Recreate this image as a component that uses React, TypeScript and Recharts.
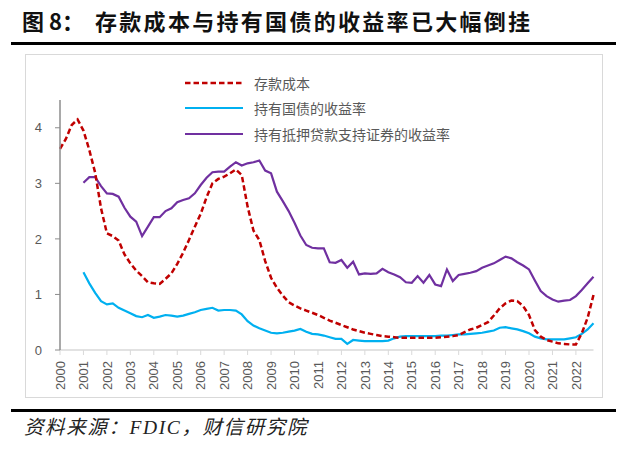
import React from "react";
import { LineChart, Line, XAxis, YAxis } from "recharts";

// quarterly data, 2000Q1 - 2022Q4 (x = year + quarter offset)
const years = [
  2000, 2001, 2002, 2003, 2004, 2005, 2006, 2007, 2008, 2009, 2010, 2011,
  2012, 2013, 2014, 2015, 2016, 2017, 2018, 2019, 2020, 2021, 2022,
];
const quarterOffsets = [0, 0.25, 0.5, 0.75];

// 存款成本 (from 2000Q1)
const depositCost = [
  3.62, 3.8, 4.05, 4.15,
  3.95, 3.6, 3.19, 2.55,
  2.1, 2.05, 1.97, 1.72,
  1.56, 1.43, 1.33, 1.22,
  1.2, 1.19, 1.28, 1.38,
  1.55, 1.75, 1.98, 2.22,
  2.45, 2.75, 3.0, 3.08,
  3.12, 3.18, 3.25, 3.15,
  2.58, 2.15, 1.98, 1.6,
  1.3, 1.12, 0.98, 0.86,
  0.8, 0.75, 0.71, 0.67,
  0.63, 0.58, 0.53, 0.49,
  0.45, 0.41, 0.37, 0.34,
  0.31, 0.29, 0.27, 0.25,
  0.24, 0.23, 0.22, 0.22,
  0.22, 0.22, 0.22, 0.22,
  0.22, 0.23, 0.24, 0.25,
  0.27, 0.32, 0.37, 0.4,
  0.45, 0.5, 0.62, 0.75,
  0.84, 0.89, 0.88, 0.79,
  0.63, 0.36, 0.24, 0.18,
  0.15, 0.12, 0.11, 0.1,
  0.1, 0.3, 0.58, 0.99,
];

// 持有国债的收益率 (from 2001Q1)
const treasuryYield = [
  1.4, 1.2, 1.03, 0.88,
  0.82, 0.84, 0.76, 0.71,
  0.66, 0.61, 0.59, 0.63,
  0.58, 0.6, 0.63, 0.62,
  0.6, 0.62, 0.65, 0.68,
  0.72, 0.74, 0.76, 0.71,
  0.72, 0.72, 0.71, 0.64,
  0.52, 0.44, 0.39, 0.35,
  0.31, 0.3, 0.31, 0.33,
  0.35, 0.38, 0.33, 0.29,
  0.28, 0.26, 0.23, 0.2,
  0.2, 0.11, 0.18, 0.17,
  0.16, 0.16, 0.16, 0.16,
  0.17, 0.21, 0.24, 0.25,
  0.25, 0.25, 0.25, 0.25,
  0.25, 0.26, 0.26, 0.27,
  0.28, 0.28, 0.29, 0.3,
  0.31, 0.33, 0.35, 0.4,
  0.41, 0.39, 0.37, 0.34,
  0.3, 0.24, 0.21, 0.19,
  0.19, 0.19, 0.19, 0.21,
  0.23, 0.29, 0.37, 0.48,
];

// 持有抵押贷款支持证券的收益率 (from 2001Q1)
const mbsYield = [
  3.01, 3.11, 3.11, 2.95,
  2.82, 2.81, 2.76, 2.56,
  2.4, 2.31, 2.05, 2.22,
  2.39, 2.39, 2.5, 2.55,
  2.66, 2.7, 2.73, 2.82,
  2.97, 3.1, 3.2, 3.21,
  3.21, 3.3, 3.38, 3.32,
  3.36, 3.38, 3.41, 3.23,
  3.18, 2.85, 2.68, 2.5,
  2.29, 2.06, 1.89, 1.84,
  1.83, 1.83, 1.58, 1.57,
  1.62, 1.48, 1.59, 1.36,
  1.38, 1.37, 1.38, 1.46,
  1.4, 1.36, 1.31, 1.22,
  1.21, 1.33, 1.21, 1.35,
  1.18, 1.15, 1.45, 1.24,
  1.35, 1.37, 1.39, 1.42,
  1.48, 1.52, 1.56, 1.62,
  1.68, 1.65, 1.58, 1.52,
  1.45, 1.25, 1.06, 0.97,
  0.91, 0.87, 0.89, 0.9,
  0.97, 1.08, 1.2, 1.32,
];

const yTicks = [0, 1, 2, 3, 4];

const seriesNames = ["存款成本", "持有国债的收益率", "持有抵押贷款支持证券的收益率"];
const seriesColors = ["#C00000", "#00B0F0", "#7030A0"];

const lagStart = depositCost.length - treasuryYield.length;

const chartData = years
  .flatMap((y) => quarterOffsets.map((q) => y + q))
  .map((t, i) => ({
    t,
    deposit: depositCost[i],
    treasury: i >= lagStart ? treasuryYield[i - lagStart] : null,
    mbs: i >= lagStart ? mbsYield[i - lagStart] : null,
  }));

const tickFont = "'Liberation Sans', Arial, sans-serif";
const cjkFont = "'Noto Sans CJK SC', sans-serif";

const YearTick = (props: any) => {
  const { x, y, payload } = props;
  return (
    <text
      x={x}
      y={y}
      transform={`rotate(-90, ${x}, ${y})`}
      textAnchor="end"
      dy="0.36em"
      fill="#595959"
      fontSize={13}
      fontFamily={tickFont}
    >
      {payload.value}
    </text>
  );
};

const LegendBox = () => (
  <div style={{ position: "absolute", left: 185, top: 70 }}>
    {seriesNames.map((name, i) => (
      <div
        key={name}
        style={{ display: "flex", alignItems: "center", height: 25.5 }}
      >
        <svg width={60} height={6}>
          <line
            x1={0}
            y1={3}
            x2={58}
            y2={3}
            stroke={seriesColors[i]}
            strokeWidth={i === 0 ? 2.5 : 2.2}
            strokeDasharray={i === 0 ? "5.5 3" : undefined}
          />
        </svg>
        <span
          style={{
            marginLeft: 9,
            fontFamily: cjkFont,
            fontSize: 14,
            color: "#595959",
            lineHeight: "20px",
          }}
        >
          {name}
        </span>
      </div>
    ))}
  </div>
);

export default function App() {
  return (
    <div
      style={{
        position: "absolute",
        left: 0,
        top: 0,
        width: 640,
        height: 452,
        background: "#fff",
        overflow: "hidden",
      }}
    >
      <div
        style={{
          position: "absolute",
          left: 22,
          top: 8,
          fontFamily: cjkFont,
          fontWeight: 700,
          fontSize: 22,
          lineHeight: "24px",
          color: "#111",
          whiteSpace: "nowrap",
        }}
      >
        图 8：
      </div>
      <div
        style={{
          position: "absolute",
          left: 95,
          top: 8,
          fontFamily: cjkFont,
          fontWeight: 700,
          fontSize: 22,
          letterSpacing: 2.3,
          lineHeight: "24px",
          color: "#111",
          whiteSpace: "nowrap",
        }}
      >
        存款成本与持有国债的收益率已大幅倒挂
      </div>
      <div
        style={{
          position: "absolute",
          left: 11,
          top: 42,
          width: 605,
          height: 3,
          background: "#000",
        }}
      />
      <div
        style={{
          position: "absolute",
          left: 25,
          top: 54,
          width: 576,
          height: 342,
          border: "1.5px solid #d9d9d9",
        }}
      />
      <div style={{ position: "absolute", left: 0, top: 0 }}>
        <LineChart
          width={640}
          height={452}
          data={chartData}
          margin={{ top: 100, right: 46.5, bottom: 52, left: 20 }}
        >
          <XAxis
            dataKey="t"
            type="number"
            domain={[2000, 2022.75]}
            ticks={years}
            interval={0}
            height={50}
            axisLine={{ stroke: "#d9d9d9", strokeWidth: 1.5 }}
            tickLine={{ stroke: "#d9d9d9" }}
            tickSize={5}
            tickMargin={6}
            tick={<YearTick />}
          />
          <YAxis
            domain={[0, 4.5]}
            ticks={yTicks}
            width={40}
            axisLine={{ stroke: "#8c8c8c", strokeWidth: 1.5 }}
            tickLine={{ stroke: "#8c8c8c" }}
            tickSize={5}
            tickMargin={13}
            tick={{ fill: "#595959", fontSize: 13, fontFamily: tickFont }}
          />
          <Line
            type="linear"
            dataKey="treasury"
            stroke={seriesColors[1]}
            strokeWidth={2.2}
            dot={false}
            isAnimationActive={false}
          />
          <Line
            type="linear"
            dataKey="mbs"
            stroke={seriesColors[2]}
            strokeWidth={2.2}
            dot={false}
            isAnimationActive={false}
          />
          <Line
            type="linear"
            dataKey="deposit"
            stroke={seriesColors[0]}
            strokeWidth={2.5}
            strokeDasharray="5.5 3"
            dot={false}
            isAnimationActive={false}
          />
        </LineChart>
      </div>
      <LegendBox />
      <div
        style={{
          position: "absolute",
          left: 11,
          top: 409,
          width: 605,
          height: 3,
          background: "#000",
        }}
      />
      <div
        style={{
          position: "absolute",
          left: 24,
          top: 417,
          fontFamily: "'Liberation Serif', 'Noto Sans CJK SC', serif",
          fontStyle: "italic",
          fontSize: 19.5,
          letterSpacing: 1.6,
          lineHeight: "22px",
          color: "#222",
          whiteSpace: "nowrap",
        }}
      >
        资料来源：FDIC，财信研究院
      </div>
    </div>
  );
}
